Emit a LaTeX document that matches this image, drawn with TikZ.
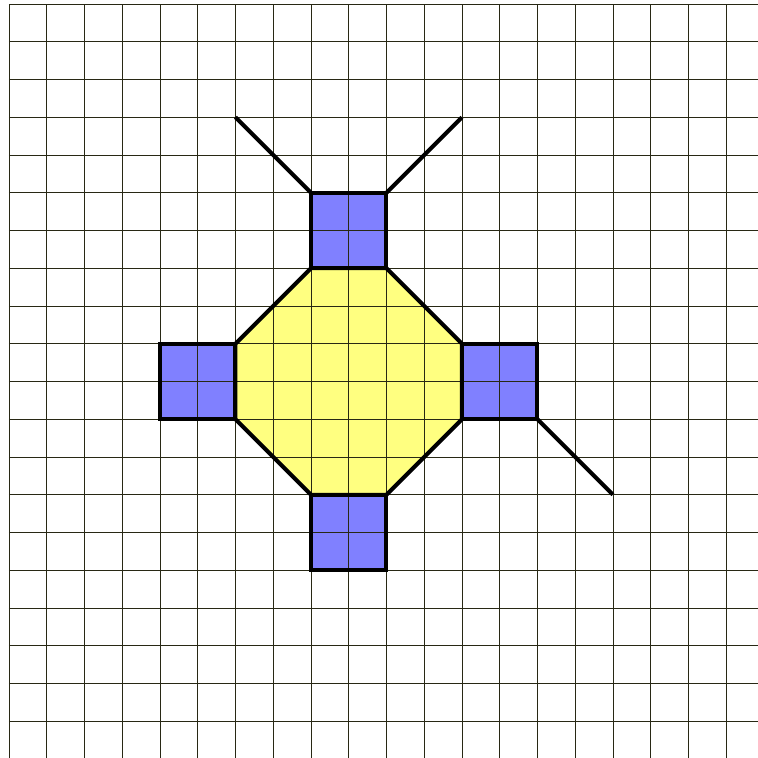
\documentclass[tikz,border=0pt]{standalone}
\usepackage{tikz}
\definecolor{gridc}{RGB}{40,40,20}
\definecolor{bluef}{RGB}{128,128,255}
\definecolor{yellowf}{RGB}{255,255,128}
\tikzset{
  gridline/.style={draw=gridc, line width=0.7pt},
  outline/.style={draw=black, line width=3pt, line join=miter},
  bluebox/.style={fill=bluef},
  yellowbox/.style={fill=yellowf}
}
\begin{document}
\begin{tikzpicture}
\useasboundingbox (-0.238,0.106) rectangle (19.84,-19.974);
\clip (-0.238,0.106) rectangle (19.84,-19.974);
% fills
\fill[yellowbox] (8,-7) -- (10,-7) -- (12,-9) -- (12,-11) -- (10,-13) -- (8,-13) -- (6,-11) -- (6,-9) -- cycle;
\fill[bluebox] (8,-5) rectangle (10,-7);
\fill[bluebox] (4,-9) rectangle (6,-11);
\fill[bluebox] (12,-9) rectangle (14,-11);
\fill[bluebox] (8,-13) rectangle (10,-15);
% grid
\foreach \i in {0,...,21} {
  \draw[gridline] (\i,0) -- (\i,-21);
  \draw[gridline] (0,-\i) -- (21,-\i);
}
% outlines
\coordinate (tl) at (8,-5);
\coordinate (tr) at (10,-5);
\coordinate (tlend) at (6,-3);
\coordinate (trend) at (12,-3);
\coordinate (rb) at (14,-11);
\coordinate (rbend) at (16,-13);
\draw[outline] (8,-7) -- (10,-7) -- (12,-9) -- (12,-11) -- (10,-13) -- (8,-13) -- (6,-11) -- (6,-9) -- cycle;
\draw[outline] (8,-5) rectangle (10,-7);
\draw[outline] (4,-9) rectangle (6,-11);
\draw[outline] (12,-9) rectangle (14,-11);
\draw[outline] (8,-13) rectangle (10,-15);
\draw[outline] (tl) -- (tlend);
\draw[outline] (tr) -- (trend);
\draw[outline] (rb) -- (rbend);
\end{tikzpicture}
\end{document}
